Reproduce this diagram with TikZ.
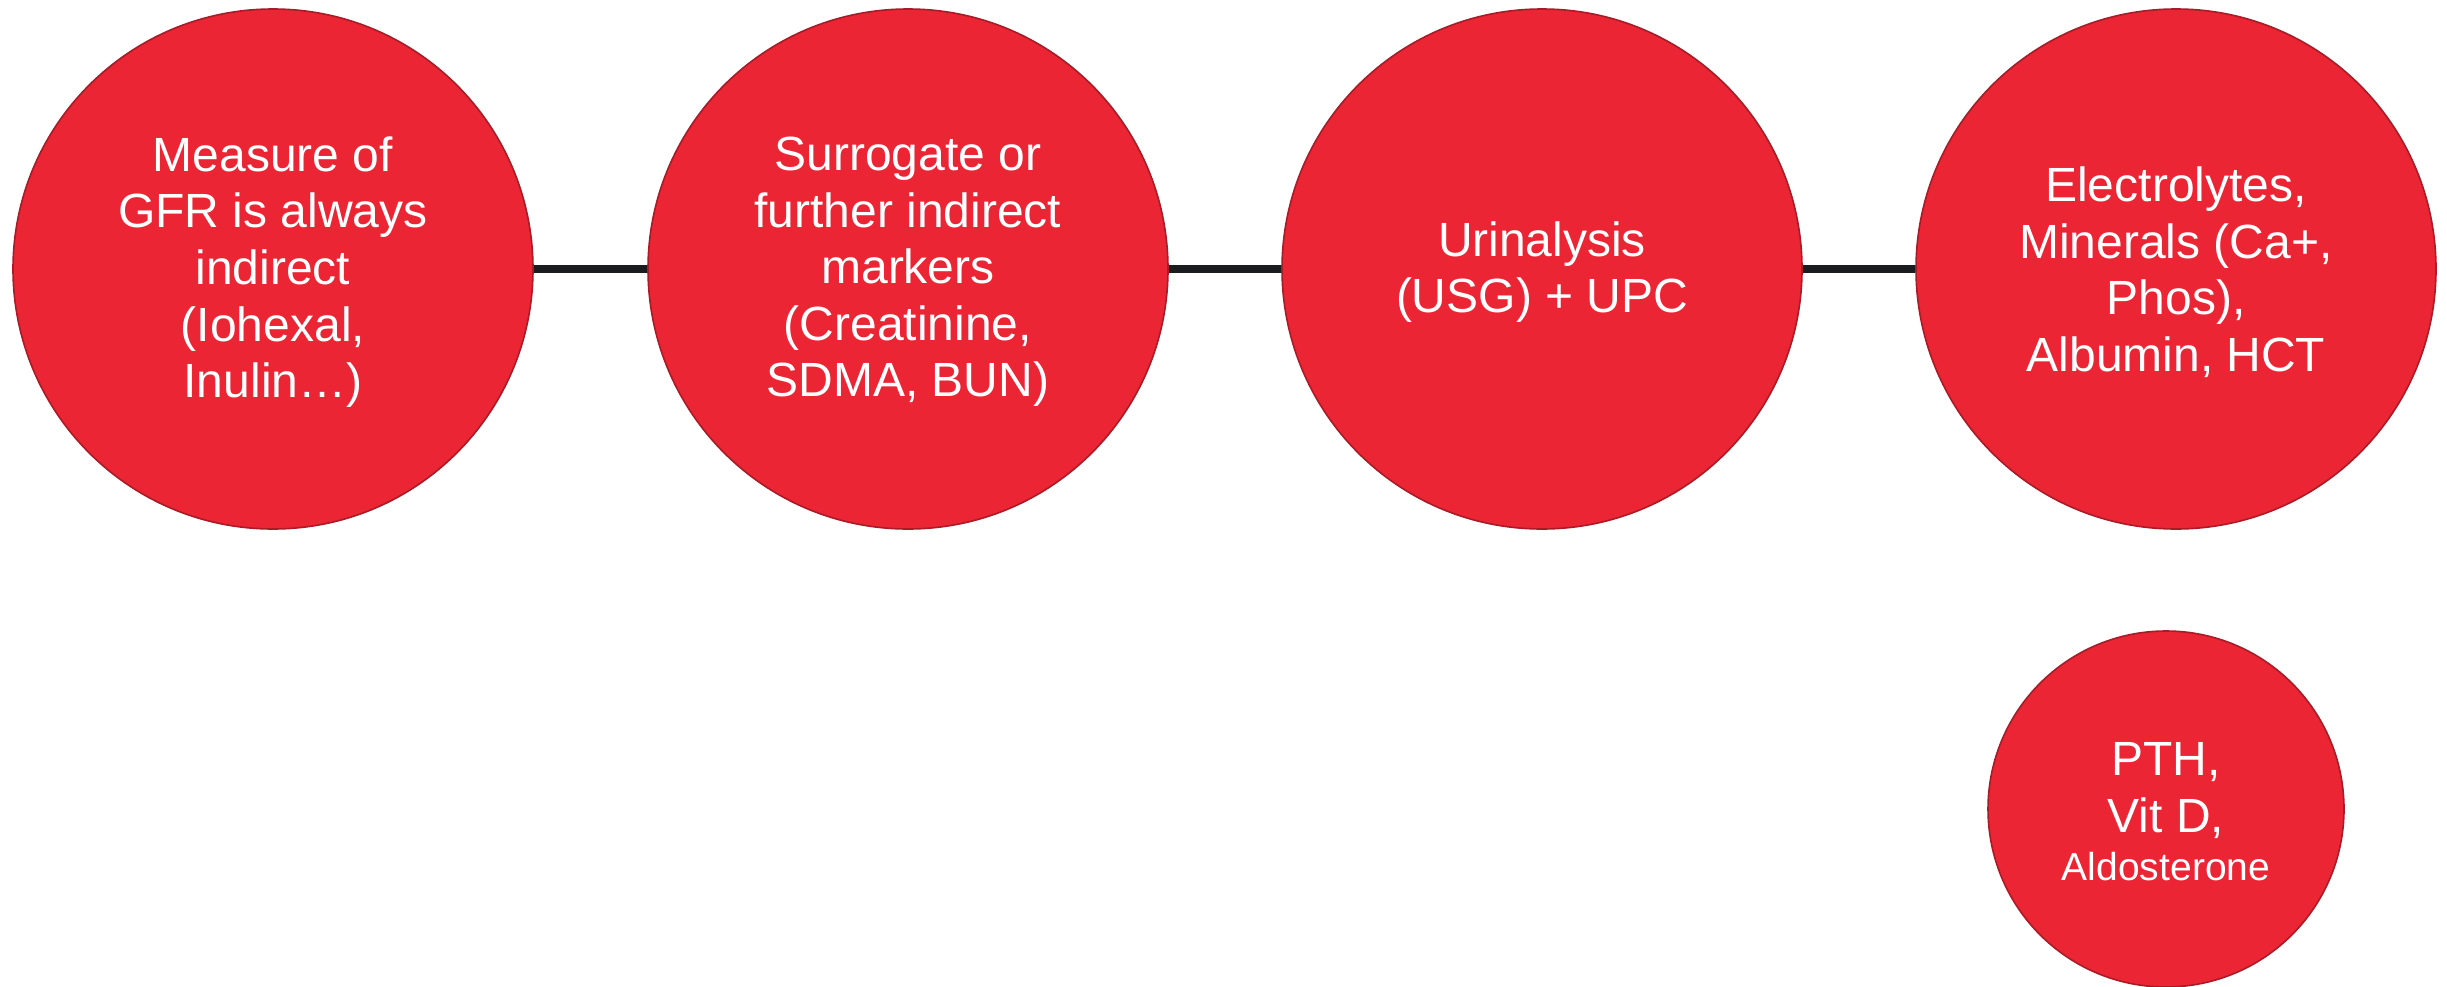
\documentclass[tikz,border=0pt]{standalone}
\usepackage{fontspec}
\setmainfont{Liberation Sans}
\definecolor{cred}{HTML}{EB2533}
\definecolor{cedge}{HTML}{A81C28}
\definecolor{cline}{HTML}{1A1C20}
\begin{document}
\begin{tikzpicture}[x=0.5pt,y=-0.5pt,
  bubble/.style={circle,fill=cred,draw=cedge,line width=0.8pt,inner sep=0pt,
    minimum size=260pt},
  smallbubble/.style={bubble,minimum size=178pt},
  txt/.style={text=white,align=center,inner sep=0pt,yshift=-1.5pt,
    font=\fontsize{24}{28.3}\selectfont},
  link/.style={draw=cline,line width=4pt}]
\useasboundingbox (0,0) rectangle (2447,986);
\node[bubble] (c1) at (273,269) {};
\node[bubble] (c2) at (908,269) {};
\node[bubble] (c3) at (1542,269) {};
\node[bubble] (c4) at (2176,269) {};
\node[smallbubble] (c5) at (2166,809) {};
\node[txt] (t1) at (c1) {Measure of\\GFR is always\\indirect\\(Iohexal,\\Inulin…)};
\node[txt] (t2) at (c2) {Surrogate or\\further indirect\\markers\\(Creatinine,\\SDMA, BUN)};
\node[txt] (t3) at (c3) {Urinalysis\\(USG) + UPC};
\node[txt] (t4) at (c4) {Electrolytes,\\Minerals (Ca+,\\Phos),\\Albumin, HCT};
\node[txt] (t5) at (c5) {PTH,\\Vit D,\\[-4pt]{\fontsize{19.5}{22}\selectfont Aldosterone}};
\draw[link] (c1.east) -- (c2.west);
\draw[link] (c2.east) -- (c3.west);
\draw[link] (c3.east) -- (c4.west);
\end{tikzpicture}
\end{document}
